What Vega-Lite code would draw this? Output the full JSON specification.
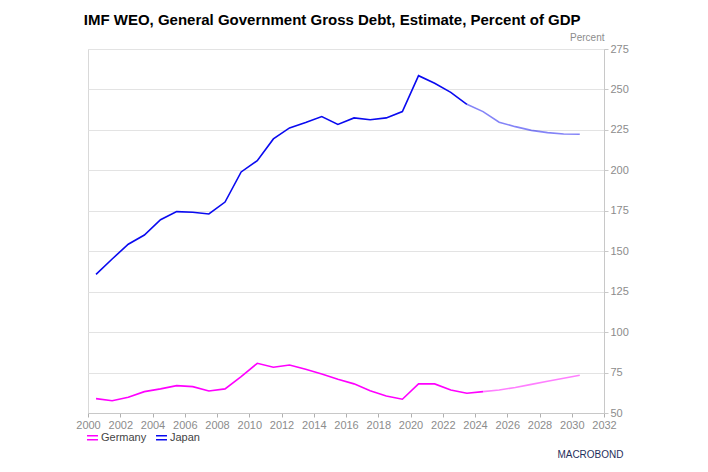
{
  "$schema": "https://vega.github.io/schema/vega-lite/v6.json",
  "width": 516,
  "height": 364,
  "autosize": {"type": "none"},
  "padding": {"left": 88, "top": 49, "right": 104, "bottom": 59},
  "background": "white",
  "config": {
    "font": "Liberation Sans",
    "view": {"stroke": "#d9d9d9", "strokeWidth": 1}
  },
  "title": {
    "text": "IMF WEO, General Government Gross Debt, Estimate, Percent of GDP",
    "anchor": "start",
    "font": "Liberation Sans",
    "fontSize": 15,
    "fontWeight": "bold",
    "color": "#000000",
    "dx": 8,
    "offset": 4
  },
  "data": {
    "values": [
      {"country": "Japan", "phase": "actual", "date": "2000-07-01", "value": 135.7},
      {"country": "Japan", "phase": "actual", "date": "2001-07-01", "value": 145.2},
      {"country": "Japan", "phase": "actual", "date": "2002-07-01", "value": 154.3},
      {"country": "Japan", "phase": "actual", "date": "2003-07-01", "value": 160.0},
      {"country": "Japan", "phase": "actual", "date": "2004-07-01", "value": 169.5},
      {"country": "Japan", "phase": "actual", "date": "2005-07-01", "value": 174.5},
      {"country": "Japan", "phase": "actual", "date": "2006-07-01", "value": 174.1},
      {"country": "Japan", "phase": "actual", "date": "2007-07-01", "value": 173.0},
      {"country": "Japan", "phase": "actual", "date": "2008-07-01", "value": 180.4},
      {"country": "Japan", "phase": "actual", "date": "2009-07-01", "value": 199.0},
      {"country": "Japan", "phase": "actual", "date": "2010-07-01", "value": 206.0},
      {"country": "Japan", "phase": "actual", "date": "2011-07-01", "value": 219.4},
      {"country": "Japan", "phase": "actual", "date": "2012-07-01", "value": 226.2},
      {"country": "Japan", "phase": "actual", "date": "2013-07-01", "value": 229.5},
      {"country": "Japan", "phase": "actual", "date": "2014-07-01", "value": 233.2},
      {"country": "Japan", "phase": "actual", "date": "2015-07-01", "value": 228.4},
      {"country": "Japan", "phase": "actual", "date": "2016-07-01", "value": 232.4},
      {"country": "Japan", "phase": "actual", "date": "2017-07-01", "value": 231.3},
      {"country": "Japan", "phase": "actual", "date": "2018-07-01", "value": 232.4},
      {"country": "Japan", "phase": "actual", "date": "2019-07-01", "value": 236.3},
      {"country": "Japan", "phase": "actual", "date": "2020-07-01", "value": 258.5},
      {"country": "Japan", "phase": "actual", "date": "2021-07-01", "value": 253.8},
      {"country": "Japan", "phase": "actual", "date": "2022-07-01", "value": 248.2},
      {"country": "Japan", "phase": "actual", "date": "2023-07-01", "value": 240.8},
      {"country": "Japan", "phase": "forecast", "date": "2023-07-01", "value": 240.8},
      {"country": "Japan", "phase": "forecast", "date": "2024-07-01", "value": 236.3},
      {"country": "Japan", "phase": "forecast", "date": "2025-07-01", "value": 229.7},
      {"country": "Japan", "phase": "forecast", "date": "2026-07-01", "value": 227.0},
      {"country": "Japan", "phase": "forecast", "date": "2027-07-01", "value": 224.7},
      {"country": "Japan", "phase": "forecast", "date": "2028-07-01", "value": 223.3},
      {"country": "Japan", "phase": "forecast", "date": "2029-07-01", "value": 222.5},
      {"country": "Japan", "phase": "forecast", "date": "2030-07-01", "value": 222.3},
      {"country": "Germany", "phase": "actual", "date": "2000-07-01", "value": 58.9},
      {"country": "Germany", "phase": "actual", "date": "2001-07-01", "value": 57.6},
      {"country": "Germany", "phase": "actual", "date": "2002-07-01", "value": 59.7},
      {"country": "Germany", "phase": "actual", "date": "2003-07-01", "value": 63.2},
      {"country": "Germany", "phase": "actual", "date": "2004-07-01", "value": 64.9},
      {"country": "Germany", "phase": "actual", "date": "2005-07-01", "value": 66.9},
      {"country": "Germany", "phase": "actual", "date": "2006-07-01", "value": 66.3},
      {"country": "Germany", "phase": "actual", "date": "2007-07-01", "value": 63.6},
      {"country": "Germany", "phase": "actual", "date": "2008-07-01", "value": 64.9},
      {"country": "Germany", "phase": "actual", "date": "2009-07-01", "value": 72.5},
      {"country": "Germany", "phase": "actual", "date": "2010-07-01", "value": 80.7},
      {"country": "Germany", "phase": "actual", "date": "2011-07-01", "value": 78.3},
      {"country": "Germany", "phase": "actual", "date": "2012-07-01", "value": 79.7},
      {"country": "Germany", "phase": "actual", "date": "2013-07-01", "value": 77.0},
      {"country": "Germany", "phase": "actual", "date": "2014-07-01", "value": 74.1},
      {"country": "Germany", "phase": "actual", "date": "2015-07-01", "value": 70.9},
      {"country": "Germany", "phase": "actual", "date": "2016-07-01", "value": 68.0},
      {"country": "Germany", "phase": "actual", "date": "2017-07-01", "value": 63.8},
      {"country": "Germany", "phase": "actual", "date": "2018-07-01", "value": 60.5},
      {"country": "Germany", "phase": "actual", "date": "2019-07-01", "value": 58.5},
      {"country": "Germany", "phase": "actual", "date": "2020-07-01", "value": 68.0},
      {"country": "Germany", "phase": "actual", "date": "2021-07-01", "value": 68.0},
      {"country": "Germany", "phase": "actual", "date": "2022-07-01", "value": 64.2},
      {"country": "Germany", "phase": "actual", "date": "2023-07-01", "value": 62.2},
      {"country": "Germany", "phase": "actual", "date": "2024-07-01", "value": 63.2},
      {"country": "Germany", "phase": "forecast", "date": "2024-07-01", "value": 63.2},
      {"country": "Germany", "phase": "forecast", "date": "2025-07-01", "value": 64.2},
      {"country": "Germany", "phase": "forecast", "date": "2026-07-01", "value": 65.8},
      {"country": "Germany", "phase": "forecast", "date": "2027-07-01", "value": 67.7},
      {"country": "Germany", "phase": "forecast", "date": "2028-07-01", "value": 69.6},
      {"country": "Germany", "phase": "forecast", "date": "2029-07-01", "value": 71.5},
      {"country": "Germany", "phase": "forecast", "date": "2030-07-01", "value": 73.3}
    ]
  },
  "mark": {"type": "line", "strokeWidth": 1.6, "clip": true},
  "encoding": {
    "x": {
      "field": "date",
      "type": "temporal",
      "scale": {
        "type": "utc",
        "domain": [{"year": 2000, "month": 1, "date": 1, "utc": true}, {"year": 2032, "month": 1, "date": 1, "utc": true}]
      },
      "axis": {
        "values": [
          {"year": 2000, "utc": true}, {"year": 2002, "utc": true}, {"year": 2004, "utc": true},
          {"year": 2006, "utc": true}, {"year": 2008, "utc": true}, {"year": 2010, "utc": true},
          {"year": 2012, "utc": true}, {"year": 2014, "utc": true}, {"year": 2016, "utc": true},
          {"year": 2018, "utc": true}, {"year": 2020, "utc": true}, {"year": 2022, "utc": true},
          {"year": 2024, "utc": true}, {"year": 2026, "utc": true}, {"year": 2028, "utc": true},
          {"year": 2030, "utc": true}, {"year": 2032, "utc": true}
        ],
        "format": "%Y",
        "grid": false,
        "domainColor": "#c8c8c8",
        "tickColor": "#b0b0b0",
        "tickSize": 4,
        "labelColor": "#8c8c8c",
        "labelFontSize": 11,
        "labelFont": "Liberation Sans",
        "labelPadding": 2,
        "labelOverlap": false,
        "labelBound": false,
        "labelFlush": false,
        "title": "MACROBOND",
        "titleColor": "#1f2f5c",
        "titleFont": "Liberation Sans",
        "titleFontSize": 10,
        "titleFontWeight": "normal",
        "titleAlign": "right",
        "titleAnchor": null,
        "titleX": 535,
        "titleY": 44,
        "titleBaseline": "alphabetic"
      }
    },
    "y": {
      "field": "value",
      "type": "quantitative",
      "scale": {"domain": [50, 275], "nice": false, "zero": false},
      "axis": {
        "orient": "right",
        "values": [50, 75, 100, 125, 150, 175, 200, 225, 250, 275],
        "grid": true,
        "gridColor": "#e3e3e3",
        "domainColor": "#c8c8c8",
        "tickColor": "#c8c8c8",
        "tickSize": 4,
        "labelColor": "#8c8c8c",
        "labelFontSize": 11,
        "labelFont": "Liberation Sans",
        "labelPadding": 2,
        "labelBound": false,
        "labelFlush": false,
        "labelOverlap": false,
        "title": "Percent",
        "titleColor": "#8c8c8c",
        "titleFont": "Liberation Sans",
        "titleFontSize": 10,
        "titleFontWeight": "normal",
        "titleAngle": 0,
        "titleAlign": "right",
        "titleBaseline": "alphabetic",
        "titleX": 0,
        "titleY": -9
      }
    },
    "color": {
      "field": "country",
      "type": "nominal",
      "scale": {"domain": ["Germany", "Japan"], "range": ["#ff00ff", "#0a0af0"]},
      "legend": {
        "orient": "none",
        "legendX": -2,
        "legendY": 382,
        "direction": "horizontal",
        "title": null,
        "symbolType": "M-1,-0.35L1,-0.35M-1,0.35L1,0.35",
        "symbolSize": 120,
        "symbolStrokeWidth": 1.5,
        "labelFontSize": 11,
        "labelFont": "Liberation Sans",
        "labelColor": "#444444",
        "labelOffset": 2,
        "columnPadding": 6
      }
    },
    "opacity": {
      "field": "phase",
      "type": "nominal",
      "scale": {"domain": ["actual", "forecast"], "range": [1, 0.5]},
      "legend": null
    }
  }
}
